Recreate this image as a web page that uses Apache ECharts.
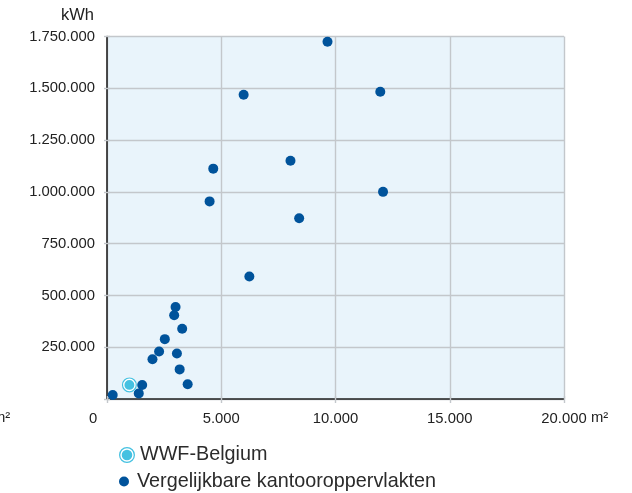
<!DOCTYPE html>
<html>
<head>
<meta charset="utf-8">
<script src="https://cdn.jsdelivr.net/npm/echarts@6/dist/echarts.min.js"></script>
<style>
  html, body { margin: 0; padding: 0; background: #fff; }
  #chart { width: 632px; height: 493px; }
</style>
</head>
<body>
<div id="chart"></div>
<script>
// floor area (m2) and yearly consumption (kWh)
const officeArea = [9650, 5980, 11960, 4650, 8030, 4490, 12080, 8410, 6230, 3000, 2940, 3290, 2530, 2280, 3060, 1990, 3180, 3530, 1540, 1390, 250]
const officeKwh = [1725000, 1469000, 1483000, 1112000, 1150000, 954000, 1000000, 873000, 591000, 444000, 404000, 339000, 289000, 229000, 220000, 192000, 143000, 71000, 68000, 27000, 19000]
const wwfArea = [980]
const wwfKwh = [68000]

const WWF_NAME = 'WWF-Belgium'
const OFFICE_NAME = 'Vergelijkbare kantooroppervlakten'

const dotColor = '#00539B'
const wwfColor = '#45C1E1'
const gridColor = '#C3C7CB'
const font = '"Liberation Sans", Arial, sans-serif'

function dotted(v) {
  return String(v).replace(/\B(?=(\d{3})+(?!\d))/g, '.')
}

function pairs(xs, ys) {
  return xs.map((x, i) => [x, ys[i]])
}

// ring + inner disk
const wwfSymbol = 'path://M0,-10A10,10 0 1,1 0,10A10,10 0 1,1 0,-10Z' +
  'M0,-8.4A8.4,8.4 0 1,0 0,8.4A8.4,8.4 0 1,0 0,-8.4Z' +
  'M0,-6.6A6.6,6.6 0 1,1 0,6.6A6.6,6.6 0 1,1 0,-6.6Z'

const chart = echarts.init(document.getElementById('chart'))

const option = {
  animation: false,
  textStyle: { fontFamily: font },
  grid: {
    left: 107,
    right: 68,
    top: 36.5,
    bottom: 94,
    show: true,
    backgroundColor: '#E9F4FB',
    borderWidth: 0,
  },
  legend: [
    {
      data: [WWF_NAME],
      orient: 'vertical',
      left: 119,
      top: 445,
      padding: 0,
      itemWidth: 16,
      itemHeight: 16,
      textStyle: { fontSize: 19.8, color: '#2b2b2b', fontFamily: font },
    },
    {
      data: [OFFICE_NAME],
      orient: 'vertical',
      left: 119,
      top: 471.5,
      padding: 0,
      itemWidth: 16,
      itemHeight: 10,
      icon: 'circle',
      textStyle: { fontSize: 19.8, color: '#2b2b2b', fontFamily: font },
    },
  ],
  xAxis: [
    {
      type: 'value',
      min: 0,
      max: 20000,
      interval: 5000,
      axisLine: { show: true, onZero: false, lineStyle: { color: '#222', width: 1.6 } },
      axisTick: { show: true, length: 4, lineStyle: { color: gridColor, width: 1.4 } },
      splitLine: { show: true, lineStyle: { color: gridColor, width: 1.4 } },
      axisLabel: {
        margin: 12,
        fontSize: 14.8,
        color: '#222',
        formatter: (v) => (v === 0 ? '{z|0}' : dotted(v)),
        rich: { z: { fontSize: 14.8, color: '#222', padding: [0, 28, 0, 0] } },
      },
    },
    {
      type: 'value',
      position: 'top',
      min: 0,
      max: 20000,
      interval: 5000,
      axisLine: { show: false },
      axisTick: { show: true, length: 3, lineStyle: { color: gridColor, width: 1.4 } },
      axisLabel: { show: false },
      splitLine: { show: false },
    },
  ],
  yAxis: [
    {
      type: 'value',
      min: 0,
      max: 1750000,
      interval: 250000,
      axisLine: { show: true, onZero: false, lineStyle: { color: '#222', width: 1.6 } },
      axisTick: { show: true, length: 3, lineStyle: { color: gridColor, width: 1.4 } },
      splitLine: { show: true, lineStyle: { color: gridColor, width: 1.4 } },
      axisLabel: {
        margin: 12,
        fontSize: 14.8,
        color: '#222',
        formatter: (v) => (v === 0 ? '' : dotted(v)),
      },
    },
    {
      type: 'value',
      position: 'right',
      min: 0,
      max: 1750000,
      interval: 250000,
      axisLine: { show: false },
      axisTick: { show: true, length: 3, lineStyle: { color: gridColor, width: 1.4 } },
      axisLabel: { show: false },
      splitLine: { show: false },
    },
  ],
  graphic: [
    {
      type: 'text',
      left: 61,
      top: 7,
      style: { text: 'kWh', fontSize: 16.5, fill: '#222', fontFamily: font },
    },
    {
      type: 'text',
      left: 591,
      top: 410,
      style: { text: 'm²', fontSize: 14.8, fill: '#222', fontFamily: font },
    },
    {
      type: 'text',
      left: -7,
      top: 410,
      style: { text: 'm²', fontSize: 14.8, fill: '#222', fontFamily: font },
    },
  ],
  series: [
    {
      name: OFFICE_NAME,
      type: 'scatter',
      symbol: 'circle',
      symbolSize: 10,
      itemStyle: { color: dotColor, opacity: 1 },
      data: pairs(officeArea, officeKwh),
      z: 3,
    },
    {
      name: 'wwf-bg',
      type: 'scatter',
      symbol: 'circle',
      symbolSize: 15,
      silent: true,
      itemStyle: { color: '#ffffff', opacity: 1 },
      data: pairs(wwfArea, wwfKwh),
      z: 4,
    },
    {
      name: WWF_NAME,
      type: 'scatter',
      symbol: wwfSymbol,
      symbolSize: 15,
      itemStyle: { color: wwfColor, opacity: 1 },
      data: pairs(wwfArea, wwfKwh),
      z: 5,
    },
  ],
}

chart.setOption(option)
</script>
</body>
</html>
